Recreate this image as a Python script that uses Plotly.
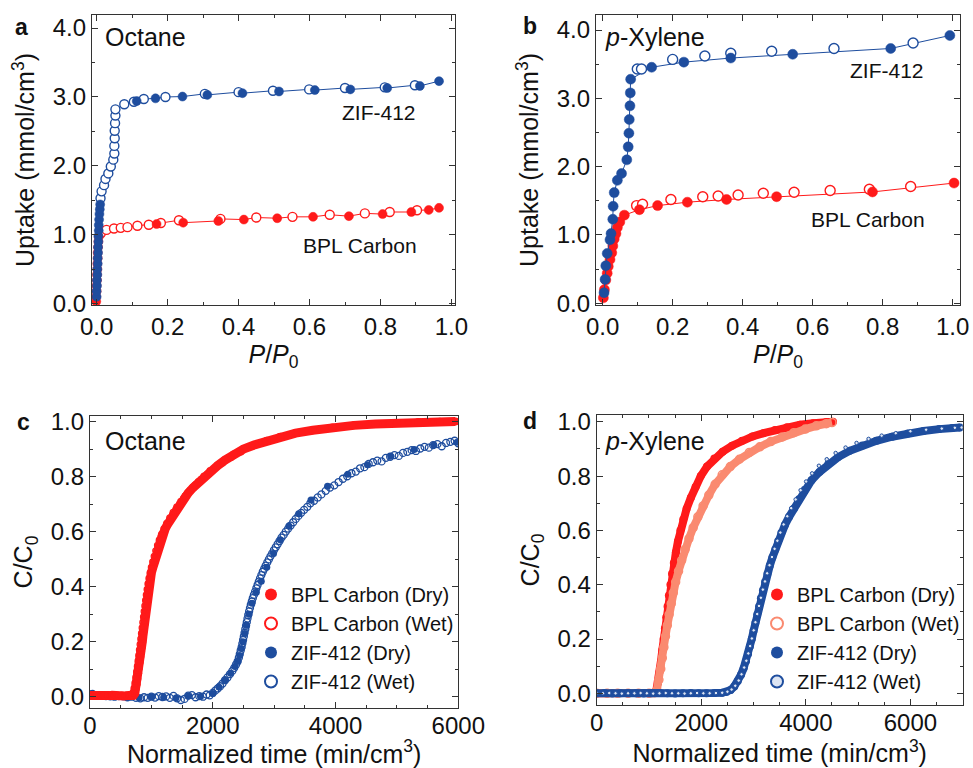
import numpy as np
import plotly.graph_objects as go

# ---------------- colours ----------------
RED = "#FF1A1A"
BLUE = "#1E4D9E"
SALMON = "#FA8A70"
FONT = "Liberation Sans, Arial, sans-serif"

# ---------------- Panel a: Octane isotherms ----------------
a_zif_ads_x = [0.000, 0.000, 0.001, 0.001, 0.002, 0.002, 0.003, 0.003, 0.004, 0.004, 0.005, 0.005,
               0.006, 0.006, 0.007, 0.008, 0.009, 0.010,
               0.113, 0.166, 0.242, 0.312, 0.411, 0.514, 0.615, 0.715, 0.819, 0.911, 0.965]
a_zif_ads_y = [0.10, 0.18, 0.26, 0.34, 0.42, 0.50, 0.58, 0.66, 0.74, 0.82, 0.90, 0.98,
               1.06, 1.14, 1.22, 1.30, 1.37, 1.44,
               2.94, 2.98, 3.006, 3.03, 3.055, 3.08, 3.10, 3.11, 3.13, 3.16, 3.23]
a_zif_des_x = [0.011, 0.014, 0.021, 0.025, 0.033, 0.040, 0.047, 0.050, 0.050, 0.051, 0.051, 0.052,
               0.053, 0.053, 0.078, 0.105, 0.133, 0.194, 0.305, 0.400, 0.497, 0.599, 0.700, 0.812, 0.897]
a_zif_des_y = [1.53, 1.63, 1.72, 1.81, 1.89, 1.99, 2.09, 2.18, 2.29, 2.40, 2.51, 2.62,
               2.73, 2.82, 2.895, 2.93, 2.97, 3.00, 3.045, 3.07, 3.09, 3.11, 3.13, 3.14, 3.17]
a_bpl_ads_x = [-0.001, -0.001, 0.000, 0.000, 0.001, 0.001, 0.002, 0.002, 0.003, 0.003, 0.004, 0.005,
               0.006, 0.169, 0.244, 0.343, 0.415, 0.509, 0.610, 0.711, 0.806, 0.887, 0.936, 0.965]
a_bpl_ads_y = [0.03, 0.10, 0.18, 0.26, 0.34, 0.42, 0.50, 0.58, 0.66, 0.74, 0.82, 0.90,
               0.97, 1.155, 1.175, 1.20, 1.22, 1.24, 1.26, 1.27, 1.30, 1.33, 1.36, 1.39]
a_bpl_des_x = [0.012, 0.028, 0.049, 0.068, 0.087, 0.115, 0.147, 0.181, 0.232, 0.349, 0.450,
               0.552, 0.657, 0.756, 0.826, 0.903]
a_bpl_des_y = [1.02, 1.07, 1.09, 1.10, 1.11, 1.13, 1.145, 1.17, 1.21, 1.23, 1.25,
               1.26, 1.29, 1.31, 1.33, 1.355]

# ---------------- Panel b: p-Xylene isotherms ----------------
b_zif_ads_x = [0.004, 0.007, 0.009, 0.013, 0.021, 0.024, 0.029, 0.030, 0.033, 0.042, 0.054, 0.069,
               0.073, 0.075, 0.076, 0.078, 0.079, 0.080, 0.140, 0.232, 0.366, 0.543, 0.823, 0.992]
b_zif_ads_y = [0.155, 0.35, 0.55, 0.73, 0.93, 1.02, 1.23, 1.42, 1.62, 1.80, 1.90, 2.10,
               2.29, 2.49, 2.69, 2.89, 3.08, 3.28, 3.455, 3.53, 3.59, 3.645, 3.73, 3.92]
b_zif_des_x = [0.099, 0.111, 0.200, 0.292, 0.366, 0.483, 0.661, 0.887]
b_zif_des_y = [3.43, 3.43, 3.57, 3.62, 3.66, 3.69, 3.73, 3.81]
b_bpl_ads_x = [0.002, 0.005, 0.009, 0.013, 0.016, 0.021, 0.026, 0.029, 0.033, 0.038, 0.042, 0.049,
               0.062, 0.105, 0.157, 0.242, 0.354, 0.497, 0.771, 1.004]
b_bpl_ads_y = [0.08, 0.20, 0.34, 0.44, 0.54, 0.64, 0.74, 0.84, 0.94, 1.02, 1.11, 1.19,
               1.29, 1.37, 1.43, 1.48, 1.52, 1.56, 1.63, 1.76]
b_bpl_des_x = [0.097, 0.114, 0.195, 0.286, 0.330, 0.387, 0.459, 0.547, 0.650, 0.762, 0.880]
b_bpl_des_y = [1.43, 1.45, 1.52, 1.56, 1.57, 1.585, 1.61, 1.625, 1.65, 1.67, 1.71]

# ---------------- Panel c: Octane breakthrough ----------------
c_bpl_dry_t = [0, 40, 80, 120, 160, 200, 240, 280, 320, 360, 400, 440, 480, 520, 560, 600, 640, 680,
               690, 710, 730, 745, 760, 772, 785, 797, 808, 820, 831, 842, 852, 862, 872, 882, 892,
               902, 912, 922, 934, 946, 960, 978, 1000, 1025, 1050, 1070, 1092, 1112, 1135, 1160,
               1190, 1225, 1260, 1300, 1350, 1405, 1465, 1530, 1600, 1680, 1770, 1860, 1960, 2080,
               2200, 2340, 2500, 2680, 2880, 3100, 3350, 3630, 3950, 4300, 4650, 5000, 5350, 5700, 5950]
c_bpl_dry_c = [0.004, 0.003, 0.005, 0.004, 0.003, 0.005, 0.004, 0.003, 0.004, 0.005, 0.003, 0.004,
               0.003, 0.004, 0.003, 0.004, 0.003, 0.004,
               0.003, 0.006, 0.012, 0.030, 0.045, 0.065, 0.085, 0.105, 0.125, 0.145, 0.165, 0.180,
               0.200, 0.220, 0.240, 0.260, 0.280, 0.300, 0.325, 0.350, 0.370, 0.390, 0.410, 0.430,
               0.450, 0.470, 0.490, 0.505, 0.525, 0.545, 0.565, 0.580, 0.595, 0.610, 0.625, 0.640,
               0.660, 0.680, 0.700, 0.720, 0.740, 0.760, 0.780, 0.800, 0.820, 0.840, 0.860, 0.880,
               0.900, 0.915, 0.930, 0.945, 0.958, 0.968, 0.978, 0.986, 0.991, 0.995, 0.998, 0.999, 1.000]
c_bpl_wet_t = [0, 60, 120, 180, 240, 300, 360, 420, 480, 540, 600, 640, 660, 680, 700, 718, 734, 748,
               760, 772, 784, 795, 806, 817, 828, 839, 850, 861, 872, 883, 894, 906, 918, 931, 945,
               961, 980, 1000, 1022, 1046, 1072, 1100, 1130, 1165, 1205, 1250, 1300, 1355, 1415,
               1480, 1550, 1630, 1715, 1810, 1915, 2030, 2160, 2300, 2460, 2640, 2850, 3090, 3360,
               3660, 4000, 4380, 4780, 5180, 5580, 5960]
c_bpl_wet_c = [0.005, 0.004, 0.003, 0.005, 0.004, 0.003, 0.004, 0.005, 0.003, 0.004, 0.003, 0.004,
               0.004, 0.008, 0.015, 0.030, 0.050, 0.070, 0.090, 0.110, 0.130, 0.150, 0.170, 0.190,
               0.210, 0.230, 0.250, 0.270, 0.290, 0.310, 0.330, 0.350, 0.370, 0.390, 0.410, 0.430,
               0.450, 0.470, 0.490, 0.510, 0.530, 0.550, 0.570, 0.590, 0.610, 0.630, 0.650, 0.670,
               0.690, 0.710, 0.730, 0.750, 0.770, 0.790, 0.810, 0.830, 0.850, 0.870, 0.890, 0.910,
               0.928, 0.944, 0.957, 0.968, 0.978, 0.986, 0.992, 0.996, 0.998, 1.000]
c_zif_dry_t = [0, 200, 400, 600, 800, 1000, 1200, 1400, 1600, 1800, 2000, 2100, 2200, 2290, 2360,
               2410, 2440, 2465, 2490, 2520, 2550, 2590, 2640, 2710, 2790, 2880, 2990, 3100, 3240,
               3400, 3600, 3870, 4200, 4520, 4900, 5280, 5600, 5980]
c_zif_dry_c = [0.006, 0.003, 0.001, -0.002, -0.004, 0.000, -0.002, -0.005, 0.003, 0.001, 0.012, 0.035,
               0.060, 0.085, 0.110, 0.130, 0.150, 0.175, 0.200, 0.230, 0.260, 0.300, 0.340, 0.380,
               0.420, 0.470, 0.520, 0.570, 0.620, 0.665, 0.715, 0.765, 0.808, 0.843, 0.874, 0.898,
               0.915, 0.925]
c_zif_wet_t = [0, 40, 90, 140, 200, 260, 330, 400, 470, 540, 610, 680, 750, 820, 880, 940, 1000,
               1060, 1120, 1180, 1240, 1300, 1360, 1420, 1480, 1540, 1600, 1660, 1720, 1780, 1840,
               1900, 1950, 2000, 2040, 2080, 2120, 2160, 2200, 2240, 2280, 2320, 2350, 2380, 2405,
               2425, 2440, 2455, 2470, 2482, 2494, 2506, 2518, 2530, 2542, 2554, 2566, 2578, 2592,
               2606, 2620, 2636, 2652, 2670, 2690, 2710, 2730, 2750, 2770, 2792, 2815, 2838, 2862,
               2888, 2914, 2940, 2968, 2996, 3026, 3056, 3088, 3120, 3155, 3190, 3228, 3268, 3310,
               3352, 3395, 3440, 3488, 3540, 3590, 3650, 3710, 3770, 3840, 3910, 3980, 4050, 4120,
               4190, 4260, 4330, 4400, 4470, 4540, 4610, 4680, 4750, 4820, 4890, 4960, 5030, 5100,
               5170, 5240, 5310, 5380, 5450, 5520, 5590, 5660, 5730, 5800, 5870, 5940, 6000]
c_zif_wet_c = [0.008, 0.010, 0.006, 0.004, 0.003, 0.002, 0.001, 0.000, 0.002, 0.001, -0.002, 0.000,
               -0.004, -0.006, -0.002, -0.004, 0.000, -0.003, 0.002, -0.001, 0.001, -0.004, 0.003,
               -0.006, -0.012, -0.008, 0.004, 0.006, -0.002, 0.002, 0.000, 0.008, 0.005, 0.014,
               0.022, 0.030, 0.038, 0.048, 0.060, 0.070, 0.082, 0.094, 0.105, 0.117, 0.128, 0.142,
               0.155, 0.168, 0.180, 0.193, 0.206, 0.219, 0.232, 0.245, 0.258, 0.271, 0.284, 0.297,
               0.310, 0.322, 0.334, 0.346, 0.358, 0.370, 0.382, 0.394, 0.406, 0.418, 0.430, 0.442,
               0.454, 0.465, 0.476, 0.488, 0.499, 0.510, 0.521, 0.532, 0.543, 0.554, 0.566, 0.578,
               0.588, 0.600, 0.611, 0.622, 0.634, 0.646, 0.657, 0.668, 0.679, 0.690, 0.703, 0.712,
               0.724, 0.735, 0.748, 0.760, 0.768, 0.780, 0.792, 0.801, 0.812, 0.818, 0.830, 0.834,
               0.846, 0.852, 0.858, 0.855, 0.868, 0.872, 0.878, 0.875, 0.886, 0.890, 0.896, 0.893,
               0.902, 0.908, 0.905, 0.914, 0.918, 0.910, 0.922, 0.926, 0.930, 0.921]

# ---------------- Panel d: p-Xylene breakthrough ----------------
d_bpl_dry_t = [0, 200, 400, 600, 800, 1000, 1100, 1140, 1175, 1205, 1230, 1255, 1280, 1305, 1330,
               1355, 1380, 1410, 1440, 1475, 1515, 1555, 1600, 1655, 1720, 1800, 1890, 1990, 2110,
               2250, 2410, 2590, 2780, 2980, 3190, 3410, 3640, 3890, 4140, 4390, 4520]
d_bpl_dry_c = [0.000, 0.000, 0.000, 0.000, 0.000, 0.000, 0.002, 0.010, 0.040, 0.080, 0.120, 0.160,
               0.200, 0.240, 0.280, 0.320, 0.360, 0.400, 0.440, 0.480, 0.520, 0.560, 0.600, 0.640,
               0.680, 0.720, 0.760, 0.800, 0.835, 0.865, 0.890, 0.912, 0.930, 0.946, 0.958, 0.970,
               0.980, 0.989, 0.995, 0.999, 1.000]
d_bpl_wet_t = [0, 200, 400, 600, 800, 1000, 1100, 1150, 1190, 1225, 1255, 1285, 1315, 1350, 1385,
               1425, 1465, 1510, 1565, 1625, 1690, 1765, 1845, 1935, 2035, 2145, 2265, 2400, 2555,
               2730, 2920, 3120, 3330, 3550, 3770, 3990, 4200, 4390, 4500]
d_bpl_wet_c = [0.000, 0.000, 0.000, 0.000, 0.000, 0.000, 0.002, 0.010, 0.050, 0.090, 0.130, 0.170,
               0.210, 0.250, 0.290, 0.330, 0.370, 0.410, 0.450, 0.490, 0.530, 0.570, 0.610, 0.650,
               0.690, 0.730, 0.770, 0.805, 0.835, 0.862, 0.887, 0.908, 0.927, 0.944, 0.960, 0.973,
               0.985, 0.993, 0.997]
d_zif_dry_t = [0, 150, 300, 450, 600, 750, 900, 1050, 1200, 1350, 1500, 1650, 1800, 1950, 2100,
               2250, 2400, 2480, 2560, 2630, 2700, 2760, 2810, 2855, 2895, 2930, 2965, 3000, 3035,
               3070, 3105, 3140, 3180, 3220, 3265, 3310, 3360, 3415, 3470, 3530, 3600, 3680, 3770,
               3870, 3980, 4110, 4260, 4430, 4620, 4840, 5080, 5350, 5650, 5950, 6250, 6550, 6800, 6950]
d_zif_dry_c = [0.000, 0.001, -0.001, 0.000, 0.001, 0.000, -0.001, 0.000, 0.001, 0.000, -0.001, 0.000,
               0.001, 0.000, 0.000, 0.001, 0.002, 0.005, 0.012, 0.025, 0.045, 0.068, 0.092, 0.118,
               0.145, 0.172, 0.200, 0.230, 0.260, 0.290, 0.320, 0.350, 0.380, 0.410, 0.440, 0.470,
               0.500, 0.530, 0.560, 0.590, 0.620, 0.650, 0.680, 0.715, 0.750, 0.785, 0.815, 0.845,
               0.870, 0.893, 0.913, 0.930, 0.945, 0.957, 0.966, 0.973, 0.977, 0.979]
d_zif_wet_t = [0, 120, 240, 360, 480, 600, 720, 840, 960, 1080, 1200, 1320, 1440, 1560, 1680, 1800,
               1920, 2040, 2160, 2280, 2400, 2500, 2580, 2650, 2715, 2770, 2820, 2862, 2900, 2935,
               2968, 3002, 3036, 3070, 3104, 3140, 3178, 3218, 3260, 3305, 3352, 3402, 3455, 3512,
               3575, 3645, 3720, 3805, 3900, 4005, 4120, 4250, 4400, 4570, 4760, 4970, 5200, 5450,
               5720, 6000, 6300, 6600, 6850, 6980]
d_zif_wet_c = [0.000, 0.000, 0.001, 0.000, -0.001, 0.000, 0.000, 0.001, 0.000, -0.001, 0.000, 0.001,
               0.000, 0.000, -0.001, 0.000, 0.001, 0.000, 0.000, 0.001, 0.002, 0.006, 0.014, 0.028,
               0.047, 0.070, 0.095, 0.120, 0.147, 0.174, 0.202, 0.232, 0.262, 0.292, 0.322, 0.352,
               0.382, 0.412, 0.442, 0.472, 0.502, 0.532, 0.562, 0.592, 0.622, 0.652, 0.682, 0.714,
               0.748, 0.780, 0.810, 0.838, 0.862, 0.885, 0.905, 0.922, 0.937, 0.949, 0.958, 0.965,
               0.971, 0.975, 0.978, 0.979]

# ---------------- text ----------------
legend_names = ["BPL Carbon (Dry)", "BPL Carbon (Wet)", "ZIF-412 (Dry)", "ZIF-412 (Wet)"]

fig = go.Figure()


def sorted_line(xs1, ys1, xs2=None, ys2=None):
    x = np.array(xs1, dtype=float)
    y = np.array(ys1, dtype=float)
    if xs2 is not None:
        x = np.concatenate([x, np.array(xs2, dtype=float)])
        y = np.concatenate([y, np.array(ys2, dtype=float)])
    order = np.lexsort((y, x))
    return x[order], y[order]


def iso_traces(xa, ya, xd, yd, color, size, axx, axy, line_both):
    if line_both:
        lx, ly = sorted_line(xa, ya, xd, yd)
    else:
        lx, ly = sorted_line(xa, ya)
    fig.add_trace(go.Scatter(x=lx, y=ly, mode="lines", line=dict(color=color, width=1),
                             showlegend=False, hoverinfo="skip", xaxis=axx, yaxis=axy))
    fig.add_trace(go.Scatter(x=xd, y=yd, mode="markers", showlegend=False,
                             marker=dict(symbol="circle", size=size, color="white",
                                         line=dict(color=color, width=1.4)),
                             xaxis=axx, yaxis=axy))
    fig.add_trace(go.Scatter(x=xa, y=ya, mode="markers", showlegend=False,
                             marker=dict(symbol="circle", size=size, color=color,
                                         line=dict(color=color, width=0.5)),
                             xaxis=axx, yaxis=axy))


# Panel a (BPL first, ZIF on top)
iso_traces(a_bpl_ads_x, a_bpl_ads_y, a_bpl_des_x, a_bpl_des_y, RED, 9, "x", "y", True)
iso_traces(a_zif_ads_x, a_zif_ads_y, a_zif_des_x, a_zif_des_y, BLUE, 9, "x", "y", True)
# Panel b
iso_traces(b_bpl_ads_x, b_bpl_ads_y, b_bpl_des_x, b_bpl_des_y, RED, 10, "x2", "y2", False)
iso_traces(b_zif_ads_x, b_zif_ads_y, b_zif_des_x, b_zif_des_y, BLUE, 10, "x2", "y2", False)

# Panel c  (ZIF drawn first, BPL on top)
fig.add_trace(go.Scatter(x=c_zif_dry_t, y=c_zif_dry_c, mode="markers", name=legend_names[2],
                         legend="legend", legendrank=3,
                         marker=dict(symbol="circle", size=7, color=BLUE),
                         xaxis="x3", yaxis="y3"))
fig.add_trace(go.Scatter(x=c_zif_wet_t, y=c_zif_wet_c, mode="markers", name=legend_names[3],
                         legend="legend", legendrank=4,
                         marker=dict(symbol="circle-open", size=7, color=BLUE, line=dict(width=1.3)),
                         xaxis="x3", yaxis="y3"))
fig.add_trace(go.Scatter(x=c_bpl_dry_t, y=c_bpl_dry_c, mode="lines", showlegend=False,
                         line=dict(color=RED, width=9), hoverinfo="skip", xaxis="x3", yaxis="y3"))
fig.add_trace(go.Scatter(x=c_bpl_dry_t, y=c_bpl_dry_c, mode="markers", name=legend_names[0],
                         legend="legend", legendrank=1,
                         marker=dict(symbol="circle", size=8, color=RED),
                         xaxis="x3", yaxis="y3"))
fig.add_trace(go.Scatter(x=c_bpl_wet_t, y=c_bpl_wet_c, mode="markers", name=legend_names[1],
                         legend="legend", legendrank=2,
                         marker=dict(symbol="circle-open", size=6, color=RED, line=dict(width=1.3)),
                         xaxis="x3", yaxis="y3"))

# Panel d
fig.add_trace(go.Scatter(x=d_bpl_dry_t, y=d_bpl_dry_c, mode="lines", showlegend=False,
                         line=dict(color=RED, width=8), hoverinfo="skip", xaxis="x4", yaxis="y4"))
fig.add_trace(go.Scatter(x=d_bpl_dry_t, y=d_bpl_dry_c, mode="markers", name=legend_names[0],
                         legend="legend2", legendrank=1,
                         marker=dict(symbol="circle", size=8, color=RED),
                         xaxis="x4", yaxis="y4"))
fig.add_trace(go.Scatter(x=d_bpl_wet_t, y=d_bpl_wet_c, mode="lines", showlegend=False,
                         line=dict(color=SALMON, width=8), hoverinfo="skip", xaxis="x4", yaxis="y4"))
fig.add_trace(go.Scatter(x=d_bpl_wet_t, y=d_bpl_wet_c, mode="markers", name=legend_names[1],
                         legend="legend2", legendrank=2,
                         marker=dict(symbol="circle-open", size=8, color=SALMON, line=dict(width=1.5)),
                         xaxis="x4", yaxis="y4"))
fig.add_trace(go.Scatter(x=d_zif_dry_t, y=d_zif_dry_c, mode="lines", showlegend=False,
                         line=dict(color=BLUE, width=8), hoverinfo="skip", xaxis="x4", yaxis="y4"))
fig.add_trace(go.Scatter(x=d_zif_dry_t, y=d_zif_dry_c, mode="markers", name=legend_names[2],
                         legend="legend2", legendrank=3,
                         marker=dict(symbol="circle", size=8, color=BLUE),
                         xaxis="x4", yaxis="y4"))
fig.add_trace(go.Scatter(x=d_zif_wet_t, y=d_zif_wet_c, mode="markers", name=legend_names[3],
                         legend="legend2", legendrank=4,
                         marker=dict(symbol="circle", size=3.5, color="#dde5f3",
                                     line=dict(color=BLUE, width=1)),
                         xaxis="x4", yaxis="y4"))

W, H = 973, 768


def px(xp):
    return xp / W


def py(yp):
    return 1 - yp / H


AX = dict(showline=True, linecolor="#333", linewidth=1.3, mirror="allticks", ticks="inside",
          ticklen=6, tickwidth=1.2, tickcolor="#333", showgrid=False, zeroline=False,
          automargin=False, ticklabeloverflow="allow",
          tickfont=dict(family=FONT, size=24, color="#111"),
          title_font=dict(family=FONT, size=25, color="#111"))


def axis(domain, rng, dtick, minor, fmt, anchor, title, standoff, lab_standoff=0):
    d = dict(AX)
    d.update(domain=domain, range=rng, dtick=dtick, tick0=0, tickformat=fmt, anchor=anchor,
             minor=dict(ticks="inside", ticklen=3, dtick=minor, tickcolor="#333", showgrid=False),
             title=dict(text=title, standoff=standoff), ticklabelstandoff=lab_standoff)
    return d


ppo = "<i>P</i>/<i>P</i><sub>0</sub>"
upt = "Uptake (mmol/cm<sup>3</sup>)"
cc0 = "C/C<sub>0</sub>"
ntm = "Normalized time (min/cm<sup>3</sup>)"

fig.update_layout(
    width=W, height=H, margin=dict(l=0, r=0, t=0, b=0),
    paper_bgcolor="white", plot_bgcolor="white",
    font=dict(family=FONT, size=20, color="#111"),
    xaxis=axis([px(92), px(455)], [-0.013, 1.01], 0.2, 0.1, ".1f", "y", ppo, 4),
    yaxis=axis([py(305), py(15)], [-0.02, 4.19], 1.0, 0.5, ".1f", "x", upt, 10),
    xaxis2=axis([px(596), px(960)], [-0.019, 1.021], 0.2, 0.1, ".1f", "y2", ppo, 4),
    yaxis2=axis([py(305), py(15)], [-0.025, 4.22], 1.0, 0.5, ".1f", "x2", upt, 10),
    xaxis3=axis([px(90), px(458.3)], [0, 6000], 2000, 500, "d", "y3", ntm, 4, -4),
    yaxis3=axis([py(708), py(416)], [-0.041, 1.02], 0.2, 0.1, ".1f", "x3", cc0, 10),
    xaxis4=axis([px(596.7), px(962.7)], [0, 7000], 2000, 500, "d", "y4", ntm, 4, -4),
    yaxis4=axis([py(705), py(415)], [-0.043, 1.025], 0.2, 0.1, ".1f", "x4", cc0, 10),
    legend=dict(x=px(251), y=py(575), xanchor="left", yanchor="top", bgcolor="rgba(0,0,0,0)",
                font=dict(family=FONT, size=20, color="#111"), itemsizing="constant",
                traceorder="normal"),
    legend2=dict(x=px(757), y=py(575), xanchor="left", yanchor="top", bgcolor="rgba(0,0,0,0)",
                 font=dict(family=FONT, size=20, color="#111"), itemsizing="constant",
                 traceorder="normal"),
)

ann = []


def text(x, y, s, size, xanchor="center", bold=False):
    ann.append(dict(x=px(x), y=py(y), xref="paper", yref="paper", text=("<b>%s</b>" % s) if bold else s,
                    showarrow=False, xanchor=xanchor, yanchor="middle",
                    font=dict(family=FONT, size=size, color="#111")))


text(21, 27, "a", 23, bold=True)
text(530, 26, "b", 23, bold=True)
text(23, 422, "c", 23, bold=True)
text(530, 421, "d", 23, bold=True)
text(103, 37, "Octane", 25, xanchor="left")
text(603, 37, "<i>p</i>-Xylene", 25, xanchor="left")
text(103, 441, "Octane", 25, xanchor="left")
text(603, 441, "<i>p</i>-Xylene", 25, xanchor="left")
text(379, 113, "ZIF-412", 21)
text(360, 245, "BPL Carbon", 21)
text(887, 71, "ZIF-412", 21)
text(868, 220, "BPL Carbon", 21)
fig.update_layout(annotations=ann)

fig.write_html("out.html", config={"displayModeBar": False},
               post_script="document.body.style.margin='0px';")
